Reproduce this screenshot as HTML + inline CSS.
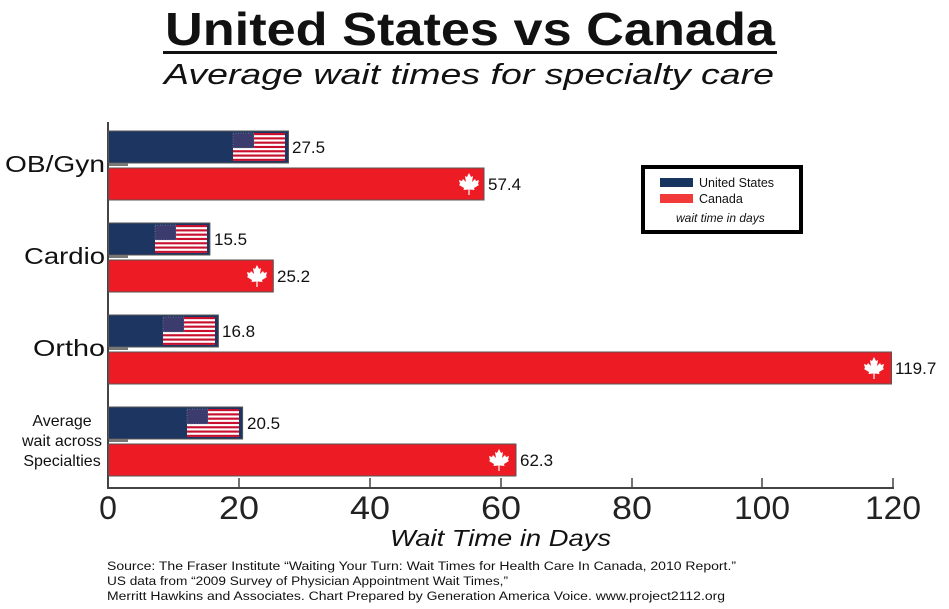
<!DOCTYPE html>
<html><head><meta charset="utf-8"><style>
body{margin:0;background:#fff;}
svg{display:block;font-family:"Liberation Sans",sans-serif;}
</style></head><body>
<svg width="949" height="609" viewBox="0 0 949 609" xmlns="http://www.w3.org/2000/svg">
<defs>
<g id="flag">
<rect x="0" y="0" width="52" height="28" fill="#fff"/>
<rect x="0" y="0" width="52" height="2.15" fill="#c8102e"/>
<rect x="0" y="4.3" width="52" height="2.15" fill="#c8102e"/>
<rect x="0" y="8.6" width="52" height="2.15" fill="#c8102e"/>
<rect x="0" y="12.9" width="52" height="2.15" fill="#c8102e"/>
<rect x="0" y="17.2" width="52" height="2.15" fill="#c8102e"/>
<rect x="0" y="21.5" width="52" height="2.15" fill="#c8102e"/>
<rect x="0" y="25.8" width="52" height="2.15" fill="#c8102e"/>
<rect x="0" y="0" width="21" height="15" fill="#3c3b6e"/>
<rect x="0" y="0" width="21" height="15" fill="none" stroke="#9aa" stroke-width="0.5" stroke-dasharray="1 1.5"/>
</g>
<path id="leaf" d="M0,-11 L2,-7 L4,-8 L3,-2 L6,-5 L7,-3 L10,-4 L9,0 L10,1 L5,4 L5.5,6 L0.6,5.5 L0.6,11 L-0.6,11 L-0.6,5.5 L-5.5,6 L-5,4 L-10,1 L-9,0 L-10,-4 L-7,-3 L-6,-5 L-3,-2 L-4,-8 L-2,-7 Z" fill="#fff"/>
</defs>

<text x="165" y="45" font-size="46" font-weight="bold" fill="#111" textLength="610" lengthAdjust="spacingAndGlyphs">United States vs Canada</text>
<rect x="163" y="51" width="614" height="3" fill="#111"/>
<text x="164" y="84" font-size="29" font-style="italic" fill="#111" textLength="610" lengthAdjust="spacingAndGlyphs">Average wait times for specialty care</text>

<!-- axes -->
<line x1="108" y1="122" x2="108" y2="489" stroke="#444" stroke-width="2"/>
<line x1="107" y1="488" x2="894" y2="488" stroke="#444" stroke-width="2"/>
<g stroke="#444" stroke-width="1.5">
<line x1="239" y1="478" x2="239" y2="488"/><line x1="370" y1="478" x2="370" y2="488"/>
<line x1="501" y1="478" x2="501" y2="488"/><line x1="632" y1="478" x2="632" y2="488"/>
<line x1="762" y1="478" x2="762" y2="488"/><line x1="893" y1="478" x2="893" y2="488"/>
</g>
<g font-size="32" fill="#222" text-anchor="middle">
<text x="108" y="519">0</text><text x="239" y="519" textLength="40" lengthAdjust="spacingAndGlyphs">20</text><text x="370" y="519" textLength="40" lengthAdjust="spacingAndGlyphs">40</text>
<text x="501" y="519" textLength="40" lengthAdjust="spacingAndGlyphs">60</text><text x="632" y="519" textLength="40" lengthAdjust="spacingAndGlyphs">80</text><text x="762" y="519" textLength="56" lengthAdjust="spacingAndGlyphs">100</text><text x="893" y="519" textLength="56" lengthAdjust="spacingAndGlyphs">120</text>
</g>
<text x="390" y="546" font-size="23" font-style="italic" fill="#111" textLength="221" lengthAdjust="spacingAndGlyphs">Wait Time in Days</text>

<!-- category labels -->
<g font-size="23" fill="#111">
<text x="5" y="172" textLength="100" lengthAdjust="spacingAndGlyphs">OB/Gyn</text>
<text x="24" y="264" textLength="81" lengthAdjust="spacingAndGlyphs">Cardio</text>
<text x="33" y="356" textLength="72" lengthAdjust="spacingAndGlyphs">Ortho</text>
</g>
<g font-size="16" fill="#111" text-anchor="middle">
<text x="62" y="426">Average</text>
<text x="62" y="446">wait across</text>
<text x="62" y="466">Specialties</text>
</g>

<!-- bars -->
<g stroke="#555" stroke-width="1">
<rect x="108.5" y="131" width="180" height="32" fill="#1d3561"/>
<rect x="108.5" y="168" width="375.5" height="32" fill="#ed1c24"/>
<rect x="108.5" y="223" width="101.4" height="32" fill="#1d3561"/>
<rect x="108.5" y="260" width="164.8" height="32" fill="#ed1c24"/>
<rect x="108.5" y="315" width="109.9" height="32" fill="#1d3561"/>
<rect x="108.5" y="352" width="783" height="32" fill="#ed1c24"/>
<rect x="108.5" y="407" width="134.1" height="32" fill="#1d3561"/>
<rect x="108.5" y="444" width="407.5" height="32" fill="#ed1c24"/>
</g>
<g fill="#777">
<rect x="109" y="163" width="19" height="3"/><rect x="109" y="255" width="19" height="3"/>
<rect x="109" y="347" width="19" height="3"/><rect x="109" y="439" width="19" height="3"/>
</g>
<use href="#flag" x="233" y="133"/>
<use href="#flag" x="155" y="225"/>
<use href="#flag" x="163" y="317"/>
<use href="#flag" x="187" y="409"/>
<use href="#leaf" x="469" y="184"/>
<use href="#leaf" x="257" y="276"/>
<use href="#leaf" x="874" y="368"/>
<use href="#leaf" x="499" y="460"/>

<g font-size="17" fill="#111">
<text x="292" y="153">27.5</text><text x="488" y="190">57.4</text>
<text x="214" y="245">15.5</text><text x="277" y="282">25.2</text>
<text x="222" y="337">16.8</text><text x="895" y="374">119.7</text>
<text x="247" y="429">20.5</text><text x="520" y="466">62.3</text>
</g>

<!-- legend -->
<rect x="643" y="167" width="158" height="65" fill="#fff" stroke="#000" stroke-width="4"/>
<rect x="660" y="178" width="33" height="9" fill="#17355f"/>
<rect x="660" y="194" width="33" height="9" fill="#f23a3a"/>
<g font-size="12.5" fill="#111">
<text x="699" y="187">United States</text>
<text x="699" y="203">Canada</text>
<text x="676" y="222" font-style="italic" font-size="12">wait time in days</text>
</g>

<g font-size="12.2" fill="#111">
<text x="107" y="570" textLength="629" lengthAdjust="spacingAndGlyphs">Source: The Fraser Institute “Waiting Your Turn: Wait Times for Health Care In Canada, 2010 Report.”</text>
<text x="107" y="585" textLength="401" lengthAdjust="spacingAndGlyphs">US data from “2009 Survey of Physician Appointment Wait Times,”</text>
<text x="107" y="600" textLength="618" lengthAdjust="spacingAndGlyphs">Merritt Hawkins and Associates. Chart Prepared by Generation America Voice. www.project2112.org</text>
</g>
</svg>
</body></html>
